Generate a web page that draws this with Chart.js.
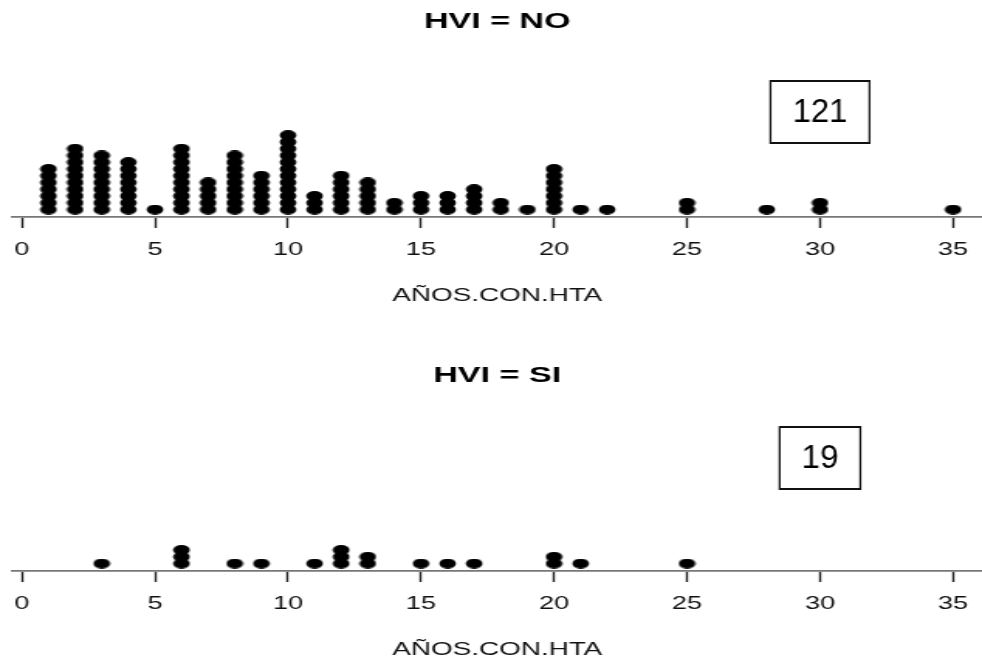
<!DOCTYPE html>
<html>
<head>
<meta charset="utf-8">
<script src="https://cdn.jsdelivr.net/npm/chart.js@4.4.1/dist/chart.umd.min.js"></script>
<style>
	html, body { margin: 0; padding: 0; background: #fff; overflow: hidden; }
	body { width: 982px; height: 663px; position: relative; }
	/* R output was stretched sideways: draw narrow, then stretch the panel */
	.panel { position: absolute; left: 0; width: 634px; height: 331px; transform: scaleX(1.5489); transform-origin: 0 0; }
	#top { top: 0; }
	#bottom { top: 354px; }
</style>
</head>
<body>
<div class="panel" id="top"><canvas id="chartNo"></canvas></div>
<div class="panel" id="bottom"><canvas id="chartSi"></canvas></div>
<script>
// AÑOS.CON.HTA values and how many patients sit on each, per HVI group
var yearsNo = [1, 2, 3, 4, 5, 6, 7, 8, 9, 10, 11, 12, 13, 14, 15, 16, 17, 18, 19, 20, 21, 22, 25, 28, 30, 35];
var countNo = [7, 10, 9, 8, 1, 10, 5, 9, 6, 12, 3, 6, 5, 2, 3, 3, 4, 2, 1, 7, 1, 1, 2, 1, 2, 1];
var yearsSi = [3, 6, 8, 9, 11, 12, 13, 15, 16, 17, 20, 21, 25];
var countSi = [1, 3, 1, 1, 1, 3, 2, 1, 1, 1, 2, 1, 1];
var xTicks = [0, 5, 10, 15, 20, 25, 30, 35];
var STRETCH = 1.5489;
var FONT = '"Liberation Sans", Arial, Helvetica, sans-serif';

// slightly wide dot so it ends up as the flat ellipse of the reference
function makeDot() {
	var c = document.createElement('canvas');
	c.width = 12;
	c.height = 10;
	var g = c.getContext('2d');
	g.fillStyle = '#000';
	g.beginPath();
	g.ellipse(6, 5, 5.4, 4.9, 0, 0, Math.PI * 2);
	g.fill();
	return c;
}

function stackPoints(xs, counts) {
	var pts = [];
	xs.forEach(function(x, i) {
		for (var k = 0; k < counts[i]; k++) {
			pts.push({ x: x, y: k });
		}
	});
	return pts;
}

// panel title and the framed count, R-style
var panelText = {
	id: 'panelText',
	afterDraw: function(chart, args, opts) {
		var ctx = chart.ctx;
		var area = chart.chartArea;
		ctx.save();
		ctx.fillStyle = '#000';
		ctx.font = 'bold 22px ' + FONT;
		ctx.textAlign = 'center';
		ctx.textBaseline = 'alphabetic';
		ctx.fillText(opts.title, (area.left + area.right) / 2, opts.titleY);

		// framed count is not stretched, so undo the panel stretch here
		var cx = chart.scales.x.getPixelForValue(opts.boxAt);
		ctx.translate(cx, 0);
		ctx.scale(1 / STRETCH, 1);
		ctx.font = '33px ' + FONT;
		var w = ctx.measureText(opts.label).width + 44;
		var h = 62;
		ctx.lineWidth = 2;
		ctx.strokeStyle = '#111';
		ctx.strokeRect(-w / 2, opts.boxTop, w, h);
		ctx.textBaseline = 'middle';
		ctx.fillText(opts.label, 0, opts.boxTop + h / 2 + 1);
		ctx.restore();
	}
};

function makeChart(id, xs, counts, title, label, boxTop) {
	return new Chart(document.getElementById(id), {
		type: 'scatter',
		data: {
			datasets: [{
				data: stackPoints(xs, counts),
				pointStyle: makeDot(),
				pointRadius: 5,
				pointHoverRadius: 5
			}]
		},
		options: {
			responsive: true,
			maintainAspectRatio: false,
			animation: false,
			events: [],
			layout: { autoPadding: false, padding: { top: 40, left: 8, right: 0, bottom: 0 } },
			plugins: {
				legend: { display: false },
				tooltip: { enabled: false },
				panelText: { title: title, titleY: 28, label: label, boxAt: 30, boxTop: boxTop }
			},
			scales: {
				x: {
					type: 'linear',
					min: -0.357,
					max: 36.09,
					afterBuildTicks: function(scale) {
						scale.ticks = xTicks.map(function(v) { return { value: v }; });
					},
					afterFit: function(scale) {
						scale.height = 114;
						scale.paddingLeft = 0;
						scale.paddingRight = 0;
					},
					border: { display: true, color: '#777', width: 1.8 },
					grid: {
						drawOnChartArea: false,
						drawTicks: true,
						tickLength: 11,
						tickColor: '#222',
						tickWidth: 1.4
					},
					ticks: {
						color: '#111',
						padding: 12,
						maxRotation: 0,
						font: { family: FONT, size: 17.5 }
					},
					title: {
						display: true,
						text: 'AÑOS.CON.HTA',
						color: '#111',
						font: { family: FONT, size: 18 },
						padding: { top: 0, bottom: 24 }
					}
				},
				y: {
					display: false,
					min: -1.111,
					max: 25.11
				}
			}
		},
		plugins: [panelText]
	});
}

makeChart('chartNo', yearsNo, countNo, 'HVI = NO', '121', 81);
makeChart('chartSi', yearsSi, countSi, 'HVI = SI', '19', 73);
</script>
</body>
</html>
